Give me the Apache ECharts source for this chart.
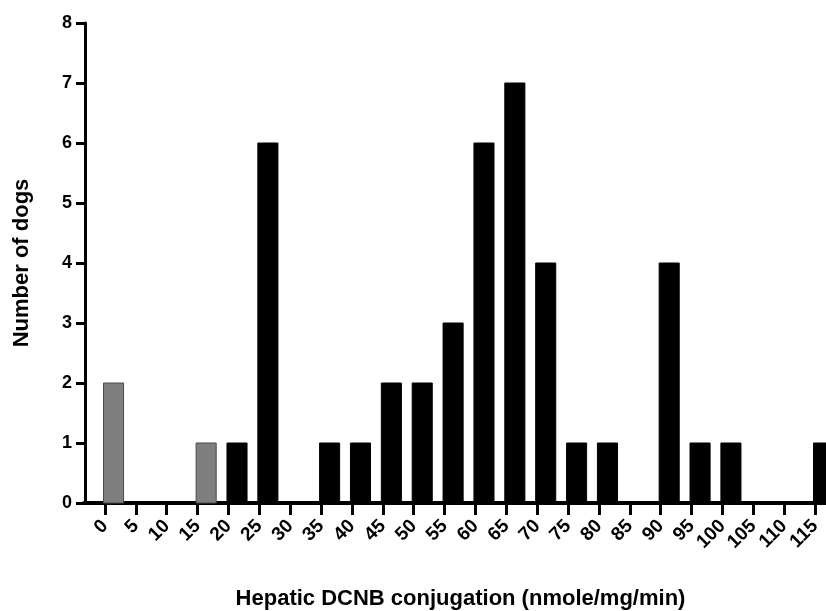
<!DOCTYPE html>
<html>
<head>
<meta charset="utf-8">
<script src="https://cdn.jsdelivr.net/npm/echarts@6/dist/echarts.min.js"></script>
<style>html,body{margin:0;padding:0;background:#fff;}#c{width:826px;height:611px;}</style>
</head>
<body>
<div id="c"></div>
<script>
// Bin starts (nmole/mg/min) and number of dogs in each bin
const binStarts = [0, 5, 10, 15, 20, 25, 30, 35, 40, 45, 50, 55, 60, 65, 70, 75, 80, 85, 90, 95, 100, 105, 110, 115];
const dogCounts = [2, 0, 0, 1, 1, 6, 0, 1, 1, 2, 2, 3, 6, 7, 4, 1, 1, 0, 4, 1, 1, 0, 0, 1];
const grayBins = [0, 15];
const yTickLabels = ['0', '1', '2', '3', '4', '5', '6', '7', '8'];
const binWidth = 5;

const FONT = 'Liberation Sans, Arial, sans-serif';
const grayData = [], blackData = [];
binStarts.forEach((b, i) => {
  (grayBins.includes(b) ? grayData : blackData).push([b, dogCounts[i]]);
});

function makeRender(fill, stroke) {
  return function (params, api) {
    const x0 = api.value(0);
    const v = api.value(1);
    const p0 = api.coord([x0, 0]);
    const p1 = api.coord([x0 + binWidth * 0.65, v]);
    return {
      type: 'rect',
      shape: { x: p0[0] - 1.5, y: p1[1], width: p1[0] - p0[0], height: p0[1] - p1[1] },
      style: { fill: fill, stroke: stroke, lineWidth: 1 }
    };
  };
}

const chart = echarts.init(document.getElementById('c'), null, { renderer: 'canvas' });
chart.setOption({
  animation: false,
  backgroundColor: '#fff',
  grid: [
    { left: 105, right: -10, top: 23, bottom: 108, containLabel: false, outerBoundsMode: 'none' },
    { left: 84, width: 22, top: 23, bottom: 108, containLabel: false, outerBoundsMode: 'none' }
  ],
  xAxis: [
    {
      gridIndex: 0,
      type: 'value',
      min: 0,
      max: 118.4,
      interval: 5,
      name: 'Hepatic DCNB conjugation (nmole/mg/min)',
      nameLocation: 'middle',
      nameGap: 85,
      nameTextStyle: { fontFamily: FONT, fontWeight: 'bold', fontSize: 22, color: '#000', padding: [0, 0, 0, -20] },
      axisLine: { show: true, onZero: false, lineStyle: { color: '#000', width: 4 } },
      axisTick: { show: true, length: 12, lineStyle: { color: '#000', width: 3 } },
      axisLabel: { rotate: 45, showMaxLabel: false, fontFamily: FONT, fontWeight: 'bold', fontSize: 19, color: '#000', margin: 20 },
      splitLine: { show: false }
    },
    {
      gridIndex: 1,
      type: 'value',
      min: 0,
      max: 1,
      axisLine: { show: true, onZero: false, lineStyle: { color: '#000', width: 4 } },
      axisTick: { show: false },
      axisLabel: { show: false },
      splitLine: { show: false }
    }
  ],
  yAxis: [
    {
      gridIndex: 0,
      type: 'value',
      min: 0,
      max: 8,
      interval: 1,
      offset: 20,
      name: 'Number of dogs',
      nameLocation: 'middle',
      nameGap: 52,
      nameRotate: 90,
      nameTextStyle: { fontFamily: FONT, fontWeight: 'bold', fontSize: 22, color: '#000' },
      axisLine: { show: true, onZero: false, lineStyle: { color: '#000', width: 3 } },
      axisTick: { show: true, length: 9, lineStyle: { color: '#000', width: 3 } },
      axisLabel: { fontFamily: FONT, fontWeight: 'bold', fontSize: 18, color: '#000', margin: 13,
        formatter: (v) => yTickLabels[v] },
      splitLine: { show: false }
    },
    {
      gridIndex: 1,
      type: 'value',
      min: 0,
      max: 1,
      show: false
    }
  ],
  series: [
    { type: 'custom', xAxisIndex: 0, yAxisIndex: 0, renderItem: makeRender('#7f7f7f', '#4a4a4a'), data: grayData, clip: false },
    { type: 'custom', xAxisIndex: 0, yAxisIndex: 0, renderItem: makeRender('#000000', '#000000'), data: blackData, clip: false }
  ]
});
</script>
</body>
</html>
